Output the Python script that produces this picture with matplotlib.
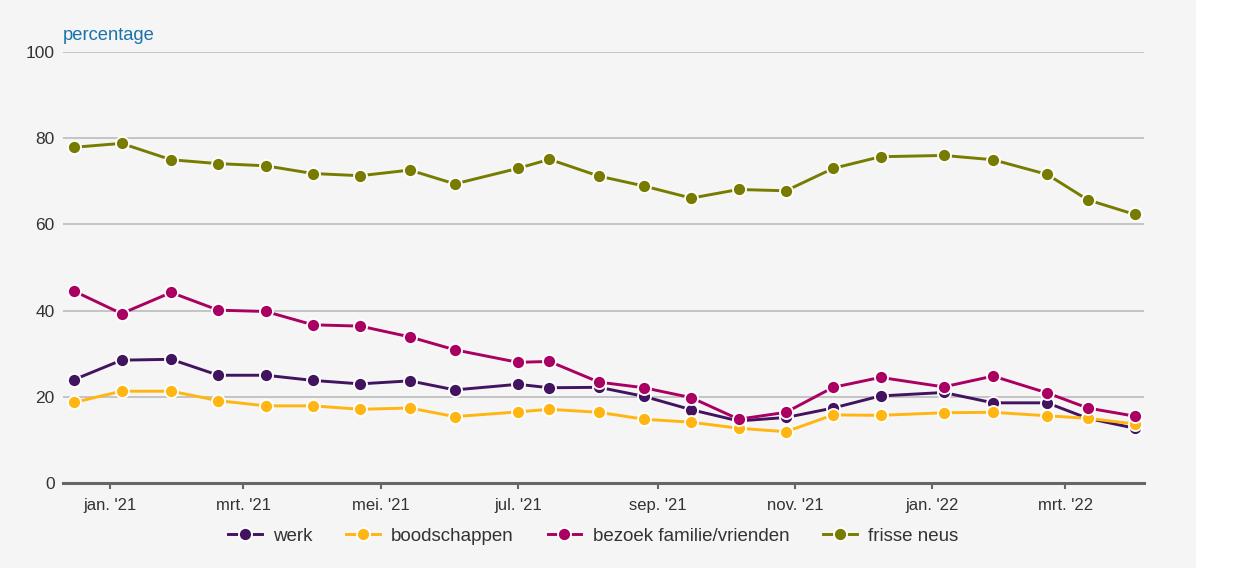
import pandas as pd
import numpy as np
import matplotlib
matplotlib.use('Agg')
import matplotlib.pyplot as plt
import matplotlib.dates as mdates
from matplotlib.patches import Rectangle

plt.rcParams['font.family'] = ['Liberation Sans', 'DejaVu Sans']

# survey dates (approximately every 3 weeks)
dates = ['2020-12-16', '2021-01-06', '2021-01-28', '2021-02-18', '2021-03-11',
         '2021-04-01', '2021-04-22', '2021-05-14', '2021-06-03', '2021-07-01',
         '2021-07-15', '2021-08-06', '2021-08-26', '2021-09-16', '2021-10-07',
         '2021-10-28', '2021-11-18', '2021-12-09', '2022-01-06', '2022-01-28',
         '2022-02-21', '2022-03-11', '2022-04-01']

werk = [24.0, 28.5, 28.7, 25.0, 25.0, 23.8, 23.0, 23.7, 21.6, 22.9, 22.1, 22.2,
        20.1, 17.0, 14.4, 15.2, 17.4, 20.2, 21.0, 18.6, 18.6, 15.0, 12.7]
boodschappen = [18.7, 21.3, 21.3, 19.1, 17.9, 17.9, 17.1, 17.4, 15.4, 16.5, 17.1, 16.4,
                14.8, 14.1, 12.7, 11.9, 15.8, 15.7, 16.3, 16.4, 15.6, 15.0, 13.7]
bezoek = [44.5, 39.3, 44.2, 40.1, 39.8, 36.7, 36.4, 33.9, 30.9, 28.0, 28.2, 23.4,
          22.1, 19.8, 14.8, 16.4, 22.2, 24.5, 22.3, 24.8, 20.9, 17.4, 15.5]
frisse_neus = [77.9, 78.8, 75.0, 74.1, 73.6, 71.8, 71.3, 72.6, 69.4, 73.0, 75.1, 71.2,
               68.9, 66.1, 68.1, 67.8, 73.0, 75.7, 76.0, 75.0, 71.6, 65.7, 62.3]

labels = ['werk', 'boodschappen', 'bezoek familie/vrienden', 'frisse neus']
colors = ['#42145f', '#ffb612', '#a90061', '#777c00']

tick_dates = ['2021-01-01', '2021-03-01', '2021-05-01', '2021-07-01', '2021-09-01',
              '2021-11-01', '2022-01-01', '2022-03-01']
tick_labels = ["jan. '21", "mrt. '21", "mei. '21", "jul. '21", "sep. '21",
               "nov. '21", "jan. '22", "mrt. '22"]

x = pd.to_datetime(dates)
series = [werk, boodschappen, bezoek, frisse_neus]

fig = plt.figure(figsize=(12.56, 5.68), dpi=100)
fig.patch.set_facecolor('white')
fig.patches.append(Rectangle((0, 0), 1196 / 1256, 1, transform=fig.transFigure,
                             facecolor='#f5f5f5', edgecolor='none', zorder=-10))

ax = fig.add_axes([63 / 1256, 1 - 483 / 568, (1144 - 63) / 1256, (483 - 52) / 568])
ax.set_facecolor('none')

for vals, lab, col in zip(series, labels, colors):
    ax.plot(x, vals, color=col, linewidth=2.1, marker='o', markersize=9.4,
            markerfacecolor=col, markeredgecolor='white', markeredgewidth=1.3,
            label=lab, zorder=3)

ax.set_ylim(0, 100)
ax.set_yticks([0, 20, 40, 60, 80, 100])
ax.set_xlim(pd.Timestamp('2020-12-11'), pd.Timestamp('2022-04-05'))
ax.set_xticks(pd.to_datetime(tick_dates))
ax.set_xticklabels(tick_labels)

ax.grid(axis='y', color='#c4c4c4', linewidth=1.4)
ax.set_axisbelow(True)
for s in ['top', 'right', 'left']:
    ax.spines[s].set_visible(False)
ax.spines['bottom'].set_color('#666666')
ax.spines['bottom'].set_linewidth(2.2)
ax.spines['bottom'].set_zorder(2)

ax.tick_params(axis='y', length=0, pad=6, labelsize=12.5, labelcolor='#333333')
ax.tick_params(axis='x', length=4, width=1.5, color='#666666', pad=7,
               labelsize=12, labelcolor='#333333')

fig.text(63 / 1256, 1 - 35 / 568, 'percentage', color='#1a73a8', fontsize=13.2,
         va='center', ha='left')

ax.legend(loc='center', bbox_to_anchor=(593 / 1256, 1 - 536 / 568),
          bbox_transform=fig.transFigure, ncol=4, frameon=False, fontsize=13.5,
          handlelength=1.8, columnspacing=1.8, handletextpad=0.6,
          labelcolor='#333333')

fig.savefig('out.png', dpi=100)
